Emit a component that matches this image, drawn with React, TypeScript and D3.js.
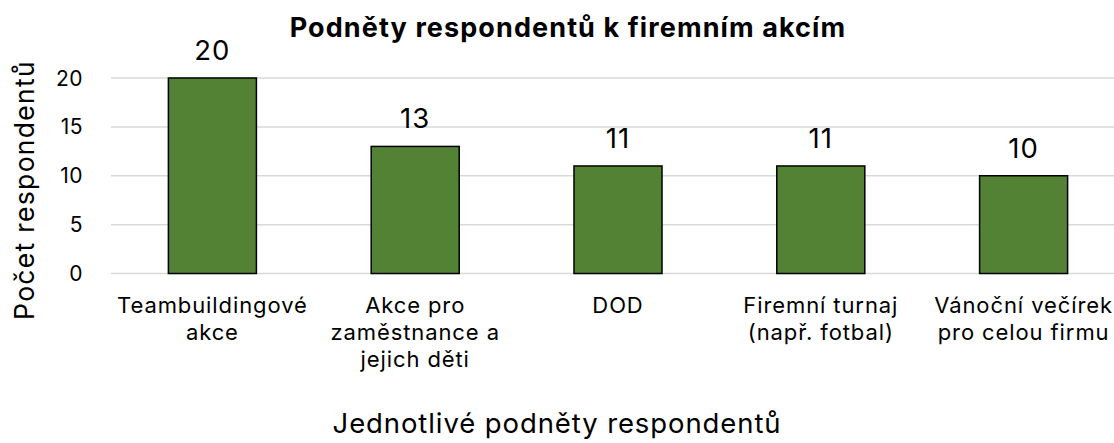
import { useRef, useEffect } from "react";
import * as d3 from "d3";

const categories = [
  "Teambuildingové\nakce",
  "Akce pro\nzaměstnance a\njejich děti",
  "DOD",
  "Firemní turnaj\n(např. fotbal)",
  "Vánoční večírek\npro celou firmu",
];
const values = [20, 13, 11, 11, 10];
const yTicks = [0, 5, 10, 15, 20];

const FONT = "Inter, 'Noto Sans', sans-serif";

export default function App() {
  const svgRef = useRef<SVGSVGElement>(null);

  useEffect(() => {
    if (!svgRef.current) return;
    const svg = d3.select(svgRef.current);
    svg.selectAll("*").remove();

    const W = 1114;
    const H = 443;
    const left = 111;
    const right = 1125;
    const top = 78;
    const bottom = 273.5;

    const x = d3
      .scaleBand<number>()
      .domain(categories.map((_, i) => i))
      .range([left, right])
      .paddingInner(0.566)
      .paddingOuter(0.283);
    const y = d3.scaleLinear().domain([0, 20]).range([bottom, top]);

    svg.attr("width", W).attr("height", H);

    // gridlines
    svg
      .append("g")
      .selectAll("line")
      .data(yTicks)
      .join("line")
      .attr("x1", left)
      .attr("x2", W)
      .attr("y1", (d) => y(d))
      .attr("y2", (d) => y(d))
      .attr("stroke", "#d9d9d9")
      .attr("stroke-width", 1.5);

    // y tick labels
    svg
      .append("g")
      .selectAll("text")
      .data(yTicks)
      .join("text")
      .attr("x", 83)
      .attr("y", (d) => y(d))
      .attr("dy", "0.36em")
      .attr("text-anchor", "end")
      .attr("font-family", FONT)
      .attr("font-size", 21)
      .attr("letter-spacing", 0.5)
      .attr("fill", "#000")
      .text((d) => d);

    // bars
    svg
      .append("g")
      .selectAll("rect")
      .data(values)
      .join("rect")
      .attr("x", (_, i) => x(i)!)
      .attr("width", x.bandwidth())
      .attr("y", (d) => y(d))
      .attr("height", (d) => bottom - y(d))
      .attr("fill", "#548235")
      .attr("stroke", "#000")
      .attr("stroke-width", 1.5);

    // data labels
    svg
      .append("g")
      .selectAll("text")
      .data(values)
      .join("text")
      .attr("x", (_, i) => x(i)! + x.bandwidth() / 2)
      .attr("y", (d) => y(d) - 18)
      .attr("text-anchor", "middle")
      .attr("font-family", FONT)
      .attr("font-size", 27.5)
      .attr("letter-spacing", 1)
      .attr("fill", "#000")
      .text((d) => d);

    // category labels
    const cat = svg
      .append("g")
      .selectAll("text")
      .data(categories)
      .join("text")
      .attr("text-anchor", "middle")
      .attr("font-family", FONT)
      .attr("font-size", 22)
      .attr("letter-spacing", 0.9)
      .attr("fill", "#000");
    cat.each(function (d, i) {
      const t = d3.select(this);
      const cx = x(i)! + x.bandwidth() / 2;
      d.split("\n").forEach((line, j) => {
        t.append("tspan").attr("x", cx).attr("y", 313 + j * 27).text(line);
      });
    });

    // title
    svg
      .append("text")
      .attr("x", 568)
      .attr("y", 37)
      .attr("text-anchor", "middle")
      .attr("font-family", FONT)
      .attr("font-weight", 700)
      .attr("font-size", 27)
      .attr("letter-spacing", 1.1)
      .attr("fill", "#000")
      .text("Podněty respondentů k firemním akcím");

    // y axis title
    svg
      .append("text")
      .attr("transform", `translate(34,${190}) rotate(-90)`)
      .attr("text-anchor", "middle")
      .attr("font-family", FONT)
      .attr("font-size", 26.5)
      .attr("letter-spacing", 1.3)
      .attr("fill", "#000")
      .text("Počet respondentů");

    // x axis title
    svg
      .append("text")
      .attr("x", 557)
      .attr("y", 433)
      .attr("text-anchor", "middle")
      .attr("font-family", FONT)
      .attr("font-size", 27.5)
      .attr("letter-spacing", 0.9)
      .attr("fill", "#000")
      .text("Jednotlivé podněty respondentů");
  }, []);

  return (
    <div style={{ position: "absolute", left: 0, top: 0, background: "#fff" }}>
      <svg ref={svgRef} style={{ display: "block" }} />
    </div>
  );
}
